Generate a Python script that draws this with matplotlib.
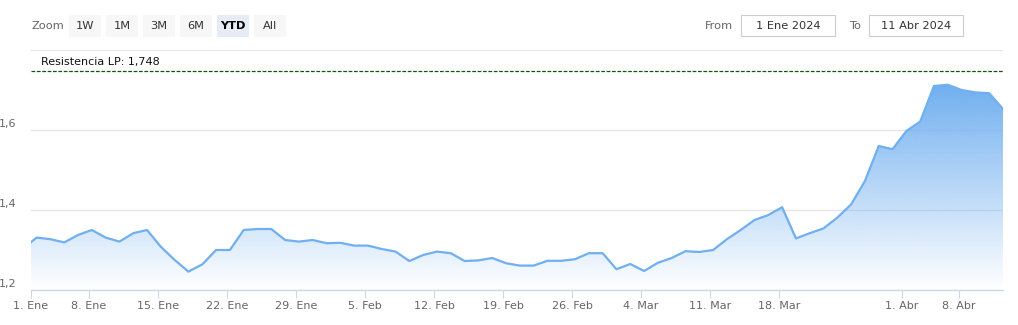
import numpy as np
import pandas as pd
import matplotlib
matplotlib.use("Agg")
import matplotlib.pyplot as plt
from matplotlib.patches import Rectangle
from matplotlib.colors import to_rgb

# Trading days shown (ordinal axis, holidays removed)
holidays = ["2024-01-01", "2024-03-29", "2024-04-01"]
dates = pd.bdate_range("2023-12-29", "2024-04-11").drop(pd.to_datetime(holidays))

values = [
    1.303,
    # January
    1.331, 1.327, 1.319, 1.3375, 1.350, 1.331, 1.321, 1.342, 1.350, 1.308,
    1.275, 1.246, 1.264, 1.300, 1.300, 1.350, 1.3525, 1.3525, 1.325, 1.321,
    1.325, 1.317,
    # February
    1.318, 1.311, 1.311, 1.3025, 1.296, 1.2725, 1.2875, 1.296, 1.292, 1.2725,
    1.274, 1.280, 1.267, 1.261, 1.261, 1.273, 1.273, 1.277, 1.292, 1.292,
    1.252,
    # March
    1.265, 1.2475, 1.268, 1.280, 1.297, 1.295, 1.300, 1.327, 1.350, 1.375,
    1.3875, 1.407, 1.329, 1.342, 1.354, 1.381, 1.414, 1.4725, 1.560, 1.552,
    # April
    1.5975, 1.621, 1.710, 1.713, 1.700, 1.694, 1.692, 1.6525,
]

tick_dates = pd.to_datetime([
    "2024-01-01", "2024-01-08", "2024-01-15", "2024-01-22", "2024-01-29",
    "2024-02-05", "2024-02-12", "2024-02-19", "2024-02-26", "2024-03-04",
    "2024-03-11", "2024-03-18", "2024-04-01", "2024-04-08",
])
month_names = {1: "Ene", 2: "Feb", 3: "Mar", 4: "Abr"}

y_ticks = [1.2, 1.4, 1.6, 1.8]
resistance = 1.748
range_buttons = ["1W", "1M", "3M", "6M", "YTD", "All"]
selected_button = "YTD"
date_from = "1 Ene 2024"
date_to = "11 Abr 2024"

W, H = 1018, 325
line_color = "#70aff0"


def fx(px):
    return px / W


def fy(py):
    return 1 - py / H


def plot_chart():
    plt.rcParams["font.family"] = "DejaVu Sans"
    fig = plt.figure(figsize=(W / 100, H / 100), dpi=100)
    ax = fig.add_axes([fx(31), 1 - 290 / H, fx(1003) - fx(31), 240 / H])

    # ordinal x positions; points stamped mid-afternoon like the source
    idx = np.arange(len(dates))
    stamps = (dates + pd.Timedelta(hours=15)).asi8.astype(float)
    y = np.array(values)
    x_left = np.interp(pd.Timestamp("2024-01-01").value, stamps, idx)
    tick_pos = np.interp(tick_dates.asi8.astype(float), stamps, idx)

    # gradient fill clipped to the area under the line
    poly = ax.fill_between(idx, y, 1.2, color="none", lw=0)
    top = y.max()
    n = 256
    rgb = to_rgb(line_color)
    grad = np.zeros((n, 1, 4))
    grad[..., 0], grad[..., 1], grad[..., 2] = rgb
    grad[:, 0, 3] = np.linspace(1.0, 0.0, n)
    im = ax.imshow(grad, extent=[idx[0], idx[-1], 1.2, top], aspect="auto",
                   origin="upper", zorder=1)
    im.set_clip_path(poly.get_paths()[0], transform=ax.transData)
    ax.plot(idx, y, color=line_color, lw=1.6, zorder=3, solid_joinstyle="round")

    # resistance line
    ax.axhline(resistance, color="#0b5a0b", lw=0.9, ls=(0, (3, 1.3)), zorder=4)
    ax.annotate(f"Resistencia LP: {resistance:.3f}".replace(".", ","),
                xy=(0, resistance), xycoords=("axes fraction", "data"),
                xytext=(7.5, 2.5), textcoords="offset points",
                ha="left", va="bottom", fontsize=8, color="#111111")

    ax.set_xlim(x_left, idx[-1])
    ax.set_ylim(1.2, 1.8)

    # grid + y labels drawn on the left, above their gridline
    for v in y_ticks:
        ax.axhline(v, color="#e6e6e6", lw=1, zorder=0)
        if v < 1.8:
            ax.annotate(f"{v:.1f}".replace(".", ","), xy=(0, v),
                        xycoords=("axes fraction", "data"),
                        xytext=(-23, 4.5), textcoords="offset points",
                        ha="left", va="center", fontsize=8, color="#666666")
    ax.set_yticks([])

    ax.set_xticks(tick_pos)
    ax.set_xticklabels([f"{d.day}. {month_names[d.month]}" for d in tick_dates])
    ax.tick_params(axis="x", length=6, width=0.8, color="#ccd6eb",
                   labelsize=8, labelcolor="#666666", pad=2)

    for s in ["top", "right", "left"]:
        ax.spines[s].set_visible(False)
    ax.spines["bottom"].set_color("#ccd6eb")
    ax.spines["bottom"].set_linewidth(0.9)

    # range selector
    fig.text(fx(31), fy(26), "Zoom", fontsize=8.2, color="#666666",
             ha="left", va="center")
    for i, label in enumerate(range_buttons):
        left = 69 + i * 37
        sel = label == selected_button
        fig.patches.append(Rectangle((fx(left), fy(37)), fx(32), 22 / H,
                                     transform=fig.transFigure,
                                     facecolor="#e6ebf5" if sel else "#f7f7f7",
                                     edgecolor="none"))
        fig.text(fx(left + 16), fy(26), label, fontsize=8.2,
                 color="#000000" if sel else "#333333",
                 fontweight="bold" if sel else "normal",
                 ha="center", va="center")

    # date inputs
    fig.text(fx(733), fy(26), "From", fontsize=8.2, color="#666666",
             ha="right", va="center")
    fig.text(fx(861), fy(26), "To", fontsize=8.2, color="#666666",
             ha="right", va="center")
    for left, txt in [(741, date_from), (869, date_to)]:
        fig.patches.append(Rectangle((fx(left), fy(36)), fx(94), 21 / H,
                                     transform=fig.transFigure,
                                     facecolor="white", edgecolor="#cccccc",
                                     lw=0.8))
        fig.text(fx(left + 47), fy(26), txt, fontsize=8.2, color="#333333",
                 ha="center", va="center")

    fig.savefig("out.png", dpi=100)


if __name__ == "__main__":
    plot_chart()
